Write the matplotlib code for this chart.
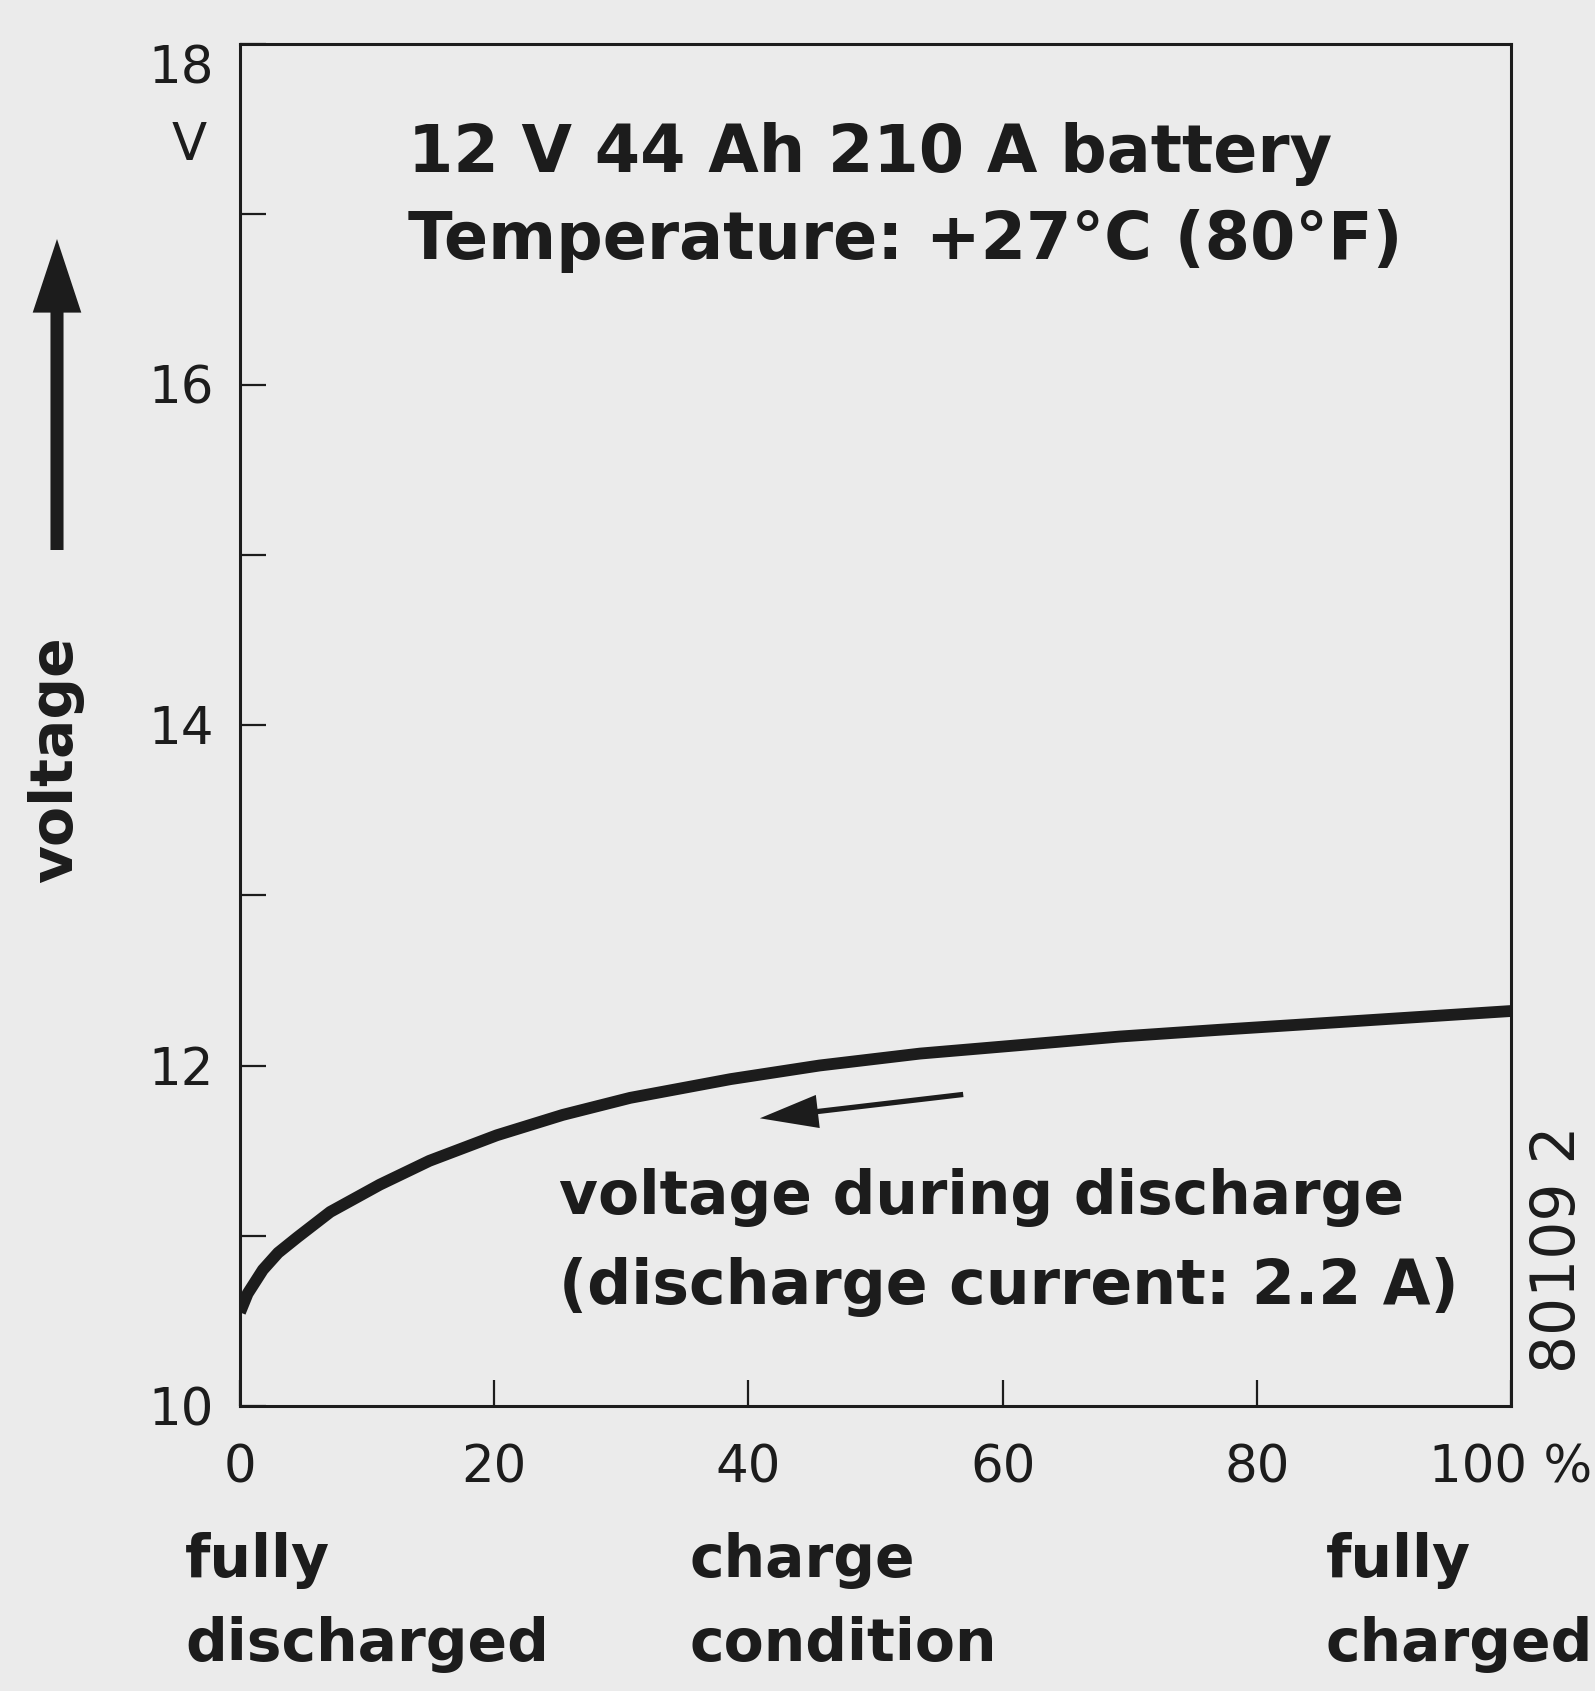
import matplotlib.pyplot as plt

# dados (estado de carga em %, tensão em V)
carga = [0, 0.6, 1.8, 3.0, 4.5, 7.1, 11.0, 14.9, 20.2, 25.4, 30.7, 38.6, 45.6, 53.5, 61.4, 69.2, 77.1, 83.4, 100]
tensao = [10.55, 10.66, 10.80, 10.90, 10.99, 11.14, 11.30, 11.44, 11.59, 11.71, 11.81, 11.92, 12.00, 12.07, 12.12,
          12.17, 12.21, 12.24, 12.32]

x_ticks = [0, 20, 40, 60, 80, 100]
x_labels = ['0', '20', '40', '60', '80', '100 %']
y_ticks = [10, 11, 12, 13, 14, 15, 16, 17, 18]
y_labels = ['10', '', '12', '', '14', '', '16', '', '18']

fundo = '#ebebeb'
tinta = '#1c1c1c'
W, H = 1595, 1691

fig = plt.figure(figsize=(W / 100, H / 100), dpi=100, facecolor=fundo)
ax = fig.add_axes([240 / W, 1 - 1406 / H, 1271 / W, 1362 / H], facecolor=fundo)

# curva de descarga
ax.plot(carga, tensao, color=tinta, linewidth=8.5, solid_capstyle='butt', solid_joinstyle='round')

ax.set_xlim(0, 100)
ax.set_ylim(10, 18)
ax.set_xticks(x_ticks)
ax.set_xticklabels(x_labels)
ax.set_yticks(y_ticks)
ax.set_yticklabels(y_labels)
ax.tick_params(direction='in', length=19, width=1.6, color=tinta, labelcolor=tinta, labelsize=37)
ax.tick_params(axis='y', pad=19)
ax.tick_params(axis='x', pad=27)
for s in ax.spines.values():
    s.set_linewidth(2.2)
    s.set_color(tinta)
# o "18" fica um pouco abaixo do topo no original
ax.get_yticklabels()[-1].set_va('top')

# unidade do eixo y
fig.text(189 / W, 1 - 146 / H, 'V', ha='center', va='center', fontsize=37, color=tinta)

# títulos dentro do gráfico
ax.text(13.2, 17.25, '12 V 44 Ah 210 A battery', fontsize=47, fontweight='bold', color=tinta, va='baseline')
ax.text(13.2, 16.74, 'Temperature: +27°C (80°F)', fontsize=47, fontweight='bold', color=tinta, va='baseline')

# anotação da curva
ax.text(25.1, 11.13, 'voltage during discharge', fontsize=43, fontweight='bold', color=tinta, va='baseline')
ax.text(25.1, 10.60, '(discharge current: 2.2 A)', fontsize=44.5, fontweight='bold', color=tinta, va='baseline')
ax.annotate('', xy=(40.9, 11.69), xytext=(56.9, 11.83),
            arrowprops=dict(arrowstyle='simple,head_length=42,head_width=24,tail_width=3.8',
                            mutation_scale=1, color=tinta, lw=0, shrinkA=0, shrinkB=0))

# rótulo e seta do eixo y
fig.text(56 / W, 1 - 760 / H, 'voltage', rotation=90, ha='center', va='center',
         fontsize=42, fontweight='bold', color=tinta)
ax.annotate('', xy=(57 / W, 1 - 239 / H), xytext=(57 / W, 1 - 550 / H),
            xycoords='figure fraction', textcoords='figure fraction',
            arrowprops=dict(arrowstyle='simple,head_length=53,head_width=35,tail_width=9.4',
                            mutation_scale=1, color=tinta, lw=0, shrinkA=0, shrinkB=0))

# legendas do eixo x (baseline da última linha)
for x0, txt in [(185, 'fully\ndischarged'), (690, 'charge\ncondition'), (1326, 'fully\ncharged')]:
    fig.text(x0 / W, 1 - 1661 / H, txt, fontsize=42, fontweight='bold', color=tinta,
             va='baseline', linespacing=1.6)

# código da figura
fig.text(1558 / W, 1 - 1249 / H, '80109 2', rotation=90, ha='center', va='center', fontsize=43, color=tinta)

plt.savefig('out.png', dpi=100, facecolor=fundo)
